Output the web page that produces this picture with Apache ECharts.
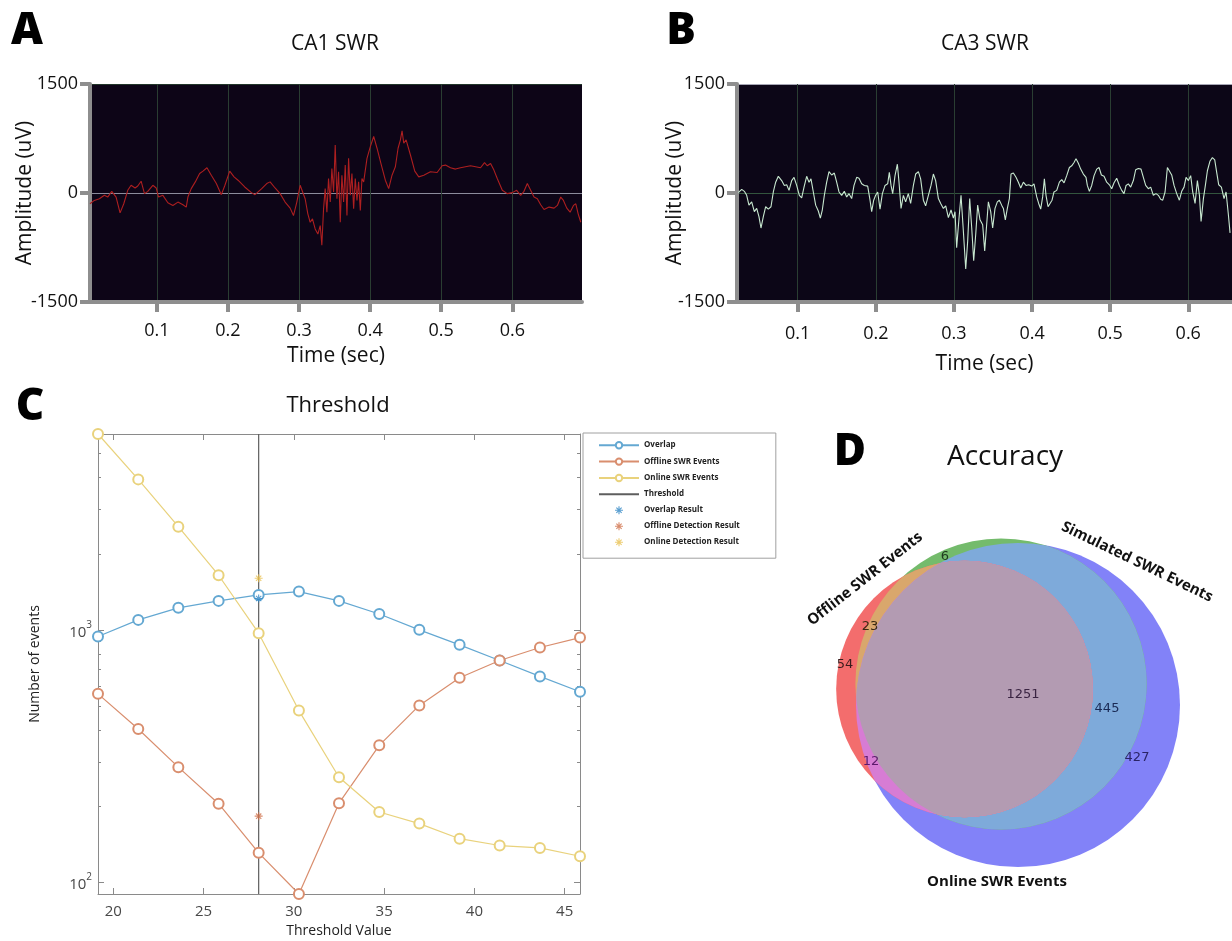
<!DOCTYPE html>
<html>
<head>
<meta charset="utf-8">
<script src="https://cdn.jsdelivr.net/npm/echarts@6/dist/echarts.min.js"></script>
<style>
  html, body { margin: 0; padding: 0; background: #fff; }
  #chart { width: 1232px; height: 941px; }
</style>
</head>
<body>
<div id="chart"></div>
<script>
// ------------------------- 数据 -------------------------
// A: CA1 SWR trace (sec, uV)
const ca1Time = [0.006, 0.0121, 0.0192, 0.0262, 0.0309, 0.0366, 0.0427, 0.0483, 0.0535, 0.0591, 0.0638, 0.0694, 0.0732, 0.0779, 0.0826, 0.0873, 0.0944, 0.0991, 0.1024, 0.1085, 0.1155, 0.1226, 0.1296, 0.1367, 0.1414, 0.1437, 0.1484, 0.1541, 0.1602, 0.1649, 0.1705, 0.1766, 0.1837, 0.1907, 0.1954, 0.2025, 0.2086, 0.2142, 0.2236, 0.2330, 0.2381, 0.2475, 0.2546, 0.2593, 0.2663, 0.2734, 0.2804, 0.2875, 0.2922, 0.2969, 0.3016, 0.3039, 0.3086, 0.3124, 0.3157, 0.3189, 0.3227, 0.3265, 0.3298, 0.3321, 0.3345, 0.3368, 0.3392, 0.3415, 0.3439, 0.3462, 0.3486, 0.3509, 0.3533, 0.3556, 0.3580, 0.3603, 0.3627, 0.3650, 0.3674, 0.3697, 0.3721, 0.3744, 0.3768, 0.3791, 0.3815, 0.3838, 0.3862, 0.3885, 0.3909, 0.3956, 0.4003, 0.4050, 0.4097, 0.4158, 0.4214, 0.4261, 0.4308, 0.4355, 0.4393, 0.4426, 0.4449, 0.4473, 0.4506, 0.4567, 0.4628, 0.4684, 0.4755, 0.4848, 0.4942, 0.5013, 0.5060, 0.5130, 0.5201, 0.5271, 0.5342, 0.5412, 0.5483, 0.5553, 0.5609, 0.5647, 0.5694, 0.5741, 0.5788, 0.5859, 0.5929, 0.6000, 0.6061, 0.6117, 0.6164, 0.6211, 0.6258, 0.6305, 0.6352, 0.6399, 0.6446, 0.6517, 0.6587, 0.6634, 0.6681, 0.6719, 0.6766, 0.6813, 0.6860, 0.6893, 0.6926, 0.6963];
const ca1Amp = [-148, -102, -79, -32, -56, 23, -56, -273, -148, 37, 106, 69, 97, 162, -9, 23, 106, 69, -56, -32, -134, -171, -125, -162, -194, -56, 60, 153, 268, 301, 347, 245, 130, -23, 97, 301, 222, 176, 83, 5, -23, 60, 130, 153, 69, -9, -125, -208, -310, -125, 106, 130, -79, -287, -403, -356, -495, -565, -449, -718, -218, 60, -264, 199, -125, 338, 14, 662, -79, 292, -403, 245, -125, 384, -310, 477, -32, 268, -218, 199, -102, 153, -241, 199, 153, 477, 639, 778, 616, 384, 176, 60, 245, 361, 616, 732, 857, 685, 732, 523, 301, 222, 245, 292, 282, 375, 384, 347, 329, 347, 361, 375, 361, 347, 417, 375, 407, 315, 199, 37, -9, 5, 37, -32, 23, 130, 37, -56, -79, -162, -227, -194, -208, -171, -56, -102, -208, -264, -171, -148, -287, -403];

// B: CA3 SWR trace (sec, uV)
const ca3Time = [0.0240, 0.0283, 0.0317, 0.0347, 0.0376, 0.0411, 0.0445, 0.0475, 0.0504, 0.0530, 0.0560, 0.0590, 0.0624, 0.0658, 0.0688, 0.0718, 0.0752, 0.0795, 0.0829, 0.0859, 0.0889, 0.0923, 0.0953, 0.0987, 0.1021, 0.1051, 0.1081, 0.1115, 0.1145, 0.1170, 0.1200, 0.1230, 0.1264, 0.1290, 0.1315, 0.1341, 0.1371, 0.1401, 0.1435, 0.1469, 0.1499, 0.1529, 0.1563, 0.1597, 0.1627, 0.1657, 0.1691, 0.1721, 0.1755, 0.1785, 0.1819, 0.1853, 0.1896, 0.1926, 0.1947, 0.1973, 0.1998, 0.2024, 0.2054, 0.2084, 0.2118, 0.2152, 0.2173, 0.2195, 0.2216, 0.2246, 0.2276, 0.2297, 0.2323, 0.2353, 0.2382, 0.2416, 0.2446, 0.2481, 0.2510, 0.2545, 0.2574, 0.2609, 0.2638, 0.2673, 0.2707, 0.2737, 0.2766, 0.2801, 0.2831, 0.2865, 0.2895, 0.2929, 0.2963, 0.2993, 0.3014, 0.3035, 0.3065, 0.3091, 0.3121, 0.3151, 0.3176, 0.3202, 0.3228, 0.3253, 0.3279, 0.3304, 0.3334, 0.3368, 0.3394, 0.3419, 0.3441, 0.3471, 0.3496, 0.3526, 0.3556, 0.3582, 0.3611, 0.3633, 0.3658, 0.3684, 0.3710, 0.3731, 0.3761, 0.3795, 0.3825, 0.3855, 0.3889, 0.3923, 0.3957, 0.3996, 0.4025, 0.4060, 0.4085, 0.4111, 0.4136, 0.4158, 0.4179, 0.4205, 0.4230, 0.4256, 0.4281, 0.4316, 0.4350, 0.4380, 0.4410, 0.4444, 0.4478, 0.4508, 0.4538, 0.4563, 0.4593, 0.4623, 0.4657, 0.4691, 0.4708, 0.4734, 0.4764, 0.4794, 0.4828, 0.4858, 0.4888, 0.4922, 0.4956, 0.4990, 0.5020, 0.5050, 0.5084, 0.5118, 0.5148, 0.5178, 0.5204, 0.5233, 0.5263, 0.5297, 0.5327, 0.5361, 0.5395, 0.5425, 0.5455, 0.5489, 0.5519, 0.5553, 0.5587, 0.5617, 0.5647, 0.5673, 0.5703, 0.5733, 0.5758, 0.5788, 0.5818, 0.5852, 0.5886, 0.5916, 0.5946, 0.5972, 0.6002, 0.6031, 0.6057, 0.6087, 0.6117, 0.6143, 0.6164, 0.6194, 0.6219, 0.6245, 0.6279, 0.6309, 0.6339, 0.6364, 0.6390, 0.6424, 0.6458, 0.6484, 0.6514, 0.6535];
const ca3Amp = [5, 50, 23, -32, -167, -122, -257, -212, -324, -482, -324, -189, -221, -189, 14, 149, 230, 171, 104, 113, 36, 171, 216, 104, -32, -68, 81, 230, 149, 194, 14, -167, -248, -347, -234, -32, 149, 293, 248, 275, 149, 14, -32, 23, -54, -9, -77, 104, 216, 203, 126, 104, 95, -99, -257, -99, -32, 14, -221, -9, 104, 126, 284, 104, -9, 239, 396, 149, -212, -32, -122, -9, -144, 104, 261, 293, 194, -99, -176, -32, 104, 261, 171, -77, -144, -212, -176, -338, -234, -347, -257, -752, -347, -32, -527, -1045, -662, -77, -482, -932, -572, -167, -369, -437, -797, -437, -122, -257, -482, -212, -122, -99, -167, -212, -369, -212, -77, 261, 275, 216, 149, 68, 149, 104, 113, 95, 126, -54, -144, -221, -54, 194, -32, -189, -203, -99, 14, 36, 149, 185, 140, 239, 351, 374, 419, 473, 410, 329, 261, 216, 104, 23, 104, 239, 329, 351, 248, 230, 149, 113, 59, 140, 203, 104, 36, -9, 104, 126, 81, 171, 320, 338, 329, 216, 104, 59, 81, -32, -9, -32, -86, -99, 14, 351, 338, 248, 104, -9, -99, 23, 81, 216, 171, 239, 14, -144, 171, -32, -392, -77, 104, 306, 441, 486, 455, 284, 113, 81, -77, 14, -302, -549];

const timeTicks = [0.1, 0.2, 0.3, 0.4, 0.5, 0.6];
const ampTicks = [-1500, 0, 1500];

// C: threshold sweep
const thresholds = [19.15, 21.38, 23.6, 25.83, 28.05, 30.28, 32.5, 34.73, 36.95, 39.18, 41.4, 43.63, 45.85];
const overlapCounts = [941, 1095, 1222, 1302, 1375, 1417, 1302, 1155, 1000, 872, 756, 654, 569];
const offlineCounts = [558, 405, 286, 205, 131, 90, 206, 349, 502, 646, 756, 851, 932];
const onlineCounts = [5960, 3941, 2560, 1645, 970, 479, 261, 190, 171, 149, 140, 137, 127];
const thresholdValue = 28.05;
const overlapResult = 1330;
const offlineResult = 183;
const onlineResult = 1601;
const thresholdTicks = [20, 25, 30, 35, 40, 45];
const minorCountTicks = [200, 300, 400, 500, 600, 700, 800, 900, 2000, 3000, 4000, 5000];
const countMin = 90, countMax = 5960;

// D: Venn regions
const vennSets = ['Offline SWR Events', 'Simulated SWR Events', 'Online SWR Events'];
const vennRegions = ['Offline only', 'Simulated only', 'Online only', 'Offline & Simulated', 'Offline & Online', 'Simulated & Online', 'All three'];
const vennCounts = [54, 6, 427, 23, 12, 445, 1251];

// ------------------------- 布局 -------------------------
const FONT = '"Open Sans", "Noto Sans", sans-serif';
const AXIS_GREY = '#8e8e8e';
const zip = (xs, ys) => xs.map((x, i) => [x, ys[i]]);

// venn: which regions belong to each set, and circle layout (grid units = px)
const setMembers = [[0, 3, 4, 6], [1, 3, 5, 6], [2, 4, 5, 6]];
const setSizes = setMembers.map(m => m.reduce((s, i) => s + vennCounts[i], 0));
const vennScale = 3.506;
const vennRadius = setSizes.map(n => vennScale * Math.sqrt(n));
const vennCenters = [[144.5, 211], [181, 216], [198, 195]];
const vennLayers = [
  { set: 2, clip: [], color: '#8282f8' },
  { set: 1, clip: [], color: '#74bb6c' },
  { set: 1, clip: [2], color: '#7eaada' },
  { set: 0, clip: [], color: '#f36d6d' },
  { set: 0, clip: [1], color: '#d9a76c' },
  { set: 0, clip: [2], color: '#d77cd4' },
  { set: 0, clip: [1, 2], color: '#b39bb2' }
];
const vennLabelPos = [[25, 235], [125, 343], [317, 142], [50, 273], [51, 138], [287, 191], [203, 205]];
const vennLabelColors = ['#3a1c1c', '#1f3a1f', '#2a2466', '#3a2a12', '#5c1a6c', '#1a2a55', '#3a2442'];

const starPath = 'path://M4.3,0h1.4v10h-1.4z M0,4.3h10v1.4h-10z M1.2,2.2l1,-1l6.6,6.6l-1,1z M7.8,1.2l1,1l-6.6,6.6l-1,-1z';

// ------------------------- 轴样式 -------------------------
const traceXAxis = (gridIndex, min, max, nameGap, margin) => ({
  gridIndex, type: 'value', min, max,
  name: 'Time (sec)', nameLocation: 'middle', nameGap,
  nameTextStyle: { fontSize: 21, color: '#111', fontFamily: FONT },
  axisLine: { show: true, onZero: false, lineStyle: { color: AXIS_GREY, width: 4 } },
  axisTick: { show: true, length: 10, customValues: timeTicks, lineStyle: { color: AXIS_GREY, width: 4 } },
  axisLabel: { customValues: timeTicks, fontSize: 18, color: '#111', margin, formatter: v => v.toFixed(1) },
  splitLine: { show: true, lineStyle: { color: '#2a3d32', width: 1 } }
});

const traceYAxis = (gridIndex, interval, splitColors, nameGap) => ({
  gridIndex, type: 'value', min: -1500, max: 1500, interval,
  name: 'Amplitude (uV)', nameLocation: 'middle', nameGap, nameMoveOverlap: false,
  nameTextStyle: { fontSize: 21, color: '#111', fontFamily: FONT },
  axisLine: { show: true, lineStyle: { color: AXIS_GREY, width: 4 } },
  axisTick: { show: true, length: 10, customValues: ampTicks, lineStyle: { color: AXIS_GREY, width: 4 } },
  axisLabel: { customValues: ampTicks, fontSize: 18, color: '#111', margin: 12, formatter: v => String(v) },
  splitLine: { show: true, lineStyle: { color: splitColors, width: 1 } }
});

const logAxis = (extra) => Object.assign({
  gridIndex: 2, type: 'log', min: countMin, max: countMax,
  axisLine: { show: true, lineStyle: { color: '#8a8a8a', width: 1 } },
  axisTick: { show: true, inside: true, length: 6, lineStyle: { color: '#8a8a8a' } },
  axisLabel: { show: false },
  splitLine: { show: false }
}, extra);

// ------------------------- 图表 -------------------------
const chart = echarts.init(document.getElementById('chart'), null, { renderer: 'canvas' });

const option = {
  animation: false,
  backgroundColor: '#ffffff',
  textStyle: { fontFamily: FONT },
  grid: [
    { left: 90, top: 84, width: 492, height: 218, show: true, backgroundColor: '#0d0517', borderWidth: 0, outerBoundsMode: 'none' },
    { left: 737, top: 84, width: 495, height: 218, show: true, backgroundColor: '#0c0617', borderWidth: 0, outerBoundsMode: 'none' },
    { left: 98, top: 434, width: 482, height: 460, show: false, outerBoundsMode: 'none' },
    { left: 820, top: 520, width: 380, height: 380, show: false, outerBoundsMode: 'none' }
  ],
  xAxis: [
    traceXAxis(0, 0.006, 0.698, 44, 20),
    traceXAxis(1, 0.0223, 0.656, 52, 23),
    {
      gridIndex: 2, type: 'value', min: 19.15, max: 45.85, position: 'bottom',
      name: 'Threshold Value', nameLocation: 'middle', nameGap: 30,
      nameTextStyle: { fontSize: 14, color: '#222' },
      axisLine: { show: true, onZero: false, lineStyle: { color: '#8a8a8a', width: 1 } },
      axisTick: { show: true, inside: true, length: 6, customValues: thresholdTicks, lineStyle: { color: '#8a8a8a' } },
      axisLabel: { customValues: thresholdTicks, fontSize: 15, color: '#484848', margin: 10 },
      splitLine: { show: false }
    },
    {
      gridIndex: 2, type: 'value', min: 19.15, max: 45.85, position: 'top',
      axisLine: { show: true, onZero: false, lineStyle: { color: '#8a8a8a', width: 1 } },
      axisTick: { show: true, inside: true, length: 6, customValues: thresholdTicks, lineStyle: { color: '#8a8a8a' } },
      axisLabel: { show: false },
      splitLine: { show: false }
    },
    { gridIndex: 3, type: 'value', min: 0, max: 380, show: false }
  ],
  yAxis: [
    traceYAxis(0, 1500, ['#22362a', '#8c8c9c', '#22362a'], 54),
    traceYAxis(1, 750, ['#33553e', '#33553e', '#a6a6b4', '#33553e', '#33553e'], 51),
    logAxis({
      position: 'left',
      name: 'Number of events', nameLocation: 'middle', nameGap: 56,
      nameTextStyle: { fontSize: 14, color: '#222' },
      axisLabel: {
        show: true, showMinLabel: false, showMaxLabel: false, margin: 6,
        formatter: v => '{b|10}{s|' + Math.round(Math.log10(v)) + '}',
        rich: {
          b: { fontSize: 15, color: '#484848', lineHeight: 20, verticalAlign: 'bottom' },
          s: { fontSize: 10, color: '#484848', lineHeight: 20, verticalAlign: 'top' }
        }
      }
    }),
    logAxis({ position: 'right' }),
    logAxis({ position: 'left', axisLine: { show: false }, axisTick: { show: true, inside: true, length: 3, customValues: minorCountTicks, lineStyle: { color: '#8a8a8a' } } }),
    logAxis({ position: 'right', axisLine: { show: false }, axisTick: { show: true, inside: true, length: 3, customValues: minorCountTicks, lineStyle: { color: '#8a8a8a' } } }),
    { gridIndex: 3, type: 'value', min: 0, max: 380, show: false }
  ],
  legend: {
    orient: 'vertical', left: 583, top: 433,
    padding: [8, 36, 12, 15],
    itemWidth: 40, itemHeight: 8, itemGap: 8,
    backgroundColor: '#ffffff', borderColor: '#a0a0a0', borderWidth: 1, borderRadius: 0,
    selectedMode: false,
    textStyle: { fontSize: 8, fontWeight: 'bold', color: '#222', fontFamily: FONT },
    data: ['Overlap', 'Offline SWR Events', 'Online SWR Events', 'Threshold', 'Overlap Result', 'Offline Detection Result', 'Online Detection Result']
  },
  series: [
    // A
    {
      type: 'line', xAxisIndex: 0, yAxisIndex: 0, data: zip(ca1Time, ca1Amp),
      symbol: 'none', lineStyle: { color: '#ad1f20', width: 1.1 }, silent: true
    },
    // B
    {
      type: 'line', xAxisIndex: 1, yAxisIndex: 1, data: zip(ca3Time, ca3Amp),
      symbol: 'none', lineStyle: { color: '#c8e8d0', width: 1.1 }, silent: true
    },
    // C
    {
      name: 'Overlap', type: 'line', xAxisIndex: 2, yAxisIndex: 2, data: zip(thresholds, overlapCounts),
      symbol: 'emptyCircle', symbolSize: 10, clip: false,
      lineStyle: { color: '#64a8d2', width: 1.2 }, itemStyle: { color: '#64a8d2', borderWidth: 1 }
    },
    {
      name: 'Offline SWR Events', type: 'line', xAxisIndex: 2, yAxisIndex: 2, data: zip(thresholds, offlineCounts),
      symbol: 'emptyCircle', symbolSize: 10, clip: false,
      lineStyle: { color: '#d98e6e', width: 1.2 }, itemStyle: { color: '#d98e6e', borderWidth: 1 }
    },
    {
      name: 'Online SWR Events', type: 'line', xAxisIndex: 2, yAxisIndex: 2, data: zip(thresholds, onlineCounts),
      symbol: 'emptyCircle', symbolSize: 10, clip: false,
      lineStyle: { color: '#e9d27c', width: 1.2 }, itemStyle: { color: '#e9d27c', borderWidth: 1 }
    },
    {
      name: 'Threshold', type: 'line', xAxisIndex: 2, yAxisIndex: 2,
      data: [[thresholdValue, countMin], [thresholdValue, countMax]],
      symbol: 'none', lineStyle: { color: '#5e5e5e', width: 1.2 }, itemStyle: { color: '#5e5e5e', opacity: 0 }
    },
    {
      name: 'Overlap Result', type: 'scatter', xAxisIndex: 2, yAxisIndex: 2, data: [[thresholdValue, overlapResult]],
      symbol: starPath, symbolSize: 8, z: 5, itemStyle: { color: '#2f86c4' }
    },
    {
      name: 'Offline Detection Result', type: 'scatter', xAxisIndex: 2, yAxisIndex: 2, data: [[thresholdValue, offlineResult]],
      symbol: starPath, symbolSize: 8, z: 5, itemStyle: { color: '#d0704a' }
    },
    {
      name: 'Online Detection Result', type: 'scatter', xAxisIndex: 2, yAxisIndex: 2, data: [[thresholdValue, onlineResult]],
      symbol: starPath, symbolSize: 8, z: 5, itemStyle: { color: '#e8c050' }
    },
    // D: venn regions painted layer by layer, intersections via clip paths
    {
      type: 'custom', xAxisIndex: 4, yAxisIndex: 6, clip: false, silent: true,
      data: vennLayers.map((l, i) => [i, 0]),
      renderItem: (params, api) => {
        const layer = vennLayers[params.dataIndex];
        const circ = i => {
          const c = api.coord(vennCenters[i]);
          return { cx: c[0], cy: c[1], r: api.size([vennRadius[i], 0])[0] };
        };
        let el = { type: 'circle', shape: circ(layer.set), style: { fill: layer.color } };
        if (layer.clip.length) {
          el.clipPath = { type: 'circle', shape: circ(layer.clip[layer.clip.length - 1]) };
        }
        if (layer.clip.length > 1) {
          el = { type: 'group', clipPath: { type: 'circle', shape: circ(layer.clip[0]) }, children: [el] };
        }
        return el;
      }
    },
    {
      type: 'custom', xAxisIndex: 4, yAxisIndex: 6, clip: false, silent: true,
      data: vennCounts.map((c, i) => [vennLabelPos[i][0], vennLabelPos[i][1], c]),
      renderItem: (params, api) => {
        const p = api.coord([api.value(0), api.value(1)]);
        return {
          type: 'text', x: p[0], y: p[1],
          style: {
            text: String(api.value(2)), fill: vennLabelColors[params.dataIndex],
            font: '13px "DejaVu Sans", sans-serif',
            textAlign: 'center', textVerticalAlign: 'middle', align: 'center', verticalAlign: 'middle'
          }
        };
      }
    }
  ],
  graphic: [
    { type: 'text', x: 27, y: 31, silent: true, style: { text: 'A', font: '800 44px "Open Sans"', fill: '#000', textAlign: 'center', textVerticalAlign: 'middle' } },
    { type: 'text', x: 681, y: 31, silent: true, style: { text: 'B', font: '800 44px "Open Sans"', fill: '#000', textAlign: 'center', textVerticalAlign: 'middle' } },
    { type: 'text', x: 30, y: 407, silent: true, style: { text: 'C', font: '800 44px "Open Sans"', fill: '#000', textAlign: 'center', textVerticalAlign: 'middle' } },
    { type: 'text', x: 850, y: 452, silent: true, style: { text: 'D', font: '800 44px "Open Sans"', fill: '#000', textAlign: 'center', textVerticalAlign: 'middle' } },
    { type: 'text', x: 335, y: 44, silent: true, style: { text: 'CA1 SWR', font: '21px "Open Sans"', fill: '#111', textAlign: 'center', textVerticalAlign: 'middle' } },
    { type: 'text', x: 985, y: 44, silent: true, style: { text: 'CA3 SWR', font: '21px "Open Sans"', fill: '#111', textAlign: 'center', textVerticalAlign: 'middle' } },
    { type: 'text', x: 338, y: 406, silent: true, style: { text: 'Threshold', font: '22px "Open Sans"', fill: '#111', textAlign: 'center', textVerticalAlign: 'middle' } },
    { type: 'text', x: 1005, y: 457, silent: true, style: { text: 'Accuracy', font: '28px "Open Sans"', fill: '#111', textAlign: 'center', textVerticalAlign: 'middle' } },
    { type: 'text', x: 865, y: 579, rotation: 0.665, silent: true, style: { text: vennSets[0], font: 'bold 15px "Open Sans"', fill: '#111', textAlign: 'center', textVerticalAlign: 'middle' } },
    { type: 'text', x: 1137, y: 562, rotation: -0.45, silent: true, style: { text: vennSets[1], font: 'bold 15px "Open Sans"', fill: '#111', textAlign: 'center', textVerticalAlign: 'middle' } },
    { type: 'text', x: 997, y: 882, silent: true, style: { text: vennSets[2], font: 'bold 15px "Open Sans"', fill: '#111', textAlign: 'center', textVerticalAlign: 'middle' } }
  ]
};

chart.setOption(option);
</script>
</body>
</html>
